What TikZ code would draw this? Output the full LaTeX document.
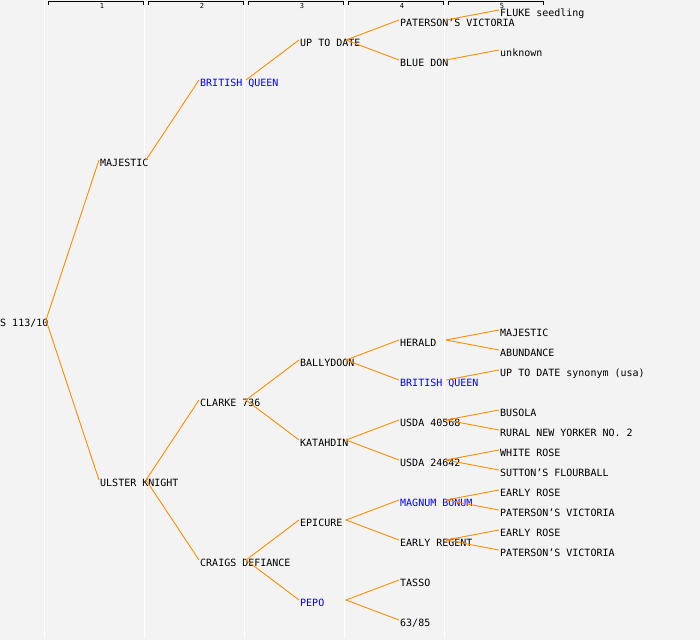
\documentclass[tikz,border=0pt]{standalone}
\usepackage{fontspec}
\setmonofont{DejaVu Sans Mono}
\definecolor{bg}{HTML}{F3F3F3}
\definecolor{edgeorange}{HTML}{FF8C00}
\definecolor{pblue}{HTML}{0000FF}
\tikzset{
  lbl/.style={font=\ttfamily\fontsize{10}{12}\selectfont, inner sep=0pt, text=black},
  bluelbl/.style={text=pblue},
  plain/.style={},
  edge/.style={draw=edgeorange, line width=0.9pt},
  colline/.style={draw=white, line width=1pt},
  bracket/.style={draw=black, line width=0.9pt},
  colnum/.style={font=\ttfamily\fontsize{7}{8}\selectfont, inner sep=0pt}
}
\newcommand\pnode[5]{%
  \node[lbl,#4,anchor=base west] (#1) at (#2,#3+6) {#5};
  \coordinate (#1-in) at (#2-1,#3);
  \coordinate (#1-out) at (#2+46,#3);
}
\begin{document}
\begin{tikzpicture}[x=1pt,y=-1pt]
\useasboundingbox (0,0) rectangle (700,640);
\fill[bg] (0,0) rectangle (700,640);
% column separators
\foreach \cx in {44.5,144.5,244.5,344.5,444.5}{
  \draw[colline] (\cx,0) -- (\cx,638);
}
% column headers
\foreach \bx/\lab in {45/1,145/2,245/3,345/4,445/5}{
  \draw[bracket] (\bx+3,4.5) -- (\bx+3,1.5) -- (\bx+98,1.5) -- (\bx+98,4.5);
  \node[colnum] (h\lab) at (\bx+57,6) {\lab};
}
% nodes
\pnode{root}{0}{320}{plain}{S 113/10}
\pnode{majestic}{100}{160}{plain}{MAJESTIC}
\pnode{ulster}{100}{480}{plain}{ULSTER KNIGHT}
\pnode{bqa}{200}{80}{bluelbl}{BRITISH QUEEN}
\pnode{clarke}{200}{400}{plain}{CLARKE 736}
\pnode{craigs}{200}{560}{plain}{CRAIGS DEFIANCE}
\pnode{uptodate}{300}{40}{plain}{UP TO DATE}
\pnode{ballydoon}{300}{360}{plain}{BALLYDOON}
\pnode{katahdin}{300}{440}{plain}{KATAHDIN}
\pnode{epicure}{300}{520}{plain}{EPICURE}
\pnode{pepo}{300}{600}{bluelbl}{PEPO}
\pnode{pva}{400}{20}{plain}{PATERSON’S VICTORIA}
\pnode{bluedon}{400}{60}{plain}{BLUE DON}
\pnode{herald}{400}{340}{plain}{HERALD}
\pnode{bqb}{400}{380}{bluelbl}{BRITISH QUEEN}
\pnode{usdaa}{400}{420}{plain}{USDA 40568}
\pnode{usdab}{400}{460}{plain}{USDA 24642}
\pnode{magnum}{400}{500}{bluelbl}{MAGNUM BONUM}
\pnode{eregent}{400}{540}{plain}{EARLY REGENT}
\pnode{tasso}{400}{580}{plain}{TASSO}
\pnode{sixtythree}{400}{620}{plain}{63/85}
\pnode{fluke}{500}{10}{plain}{FLUKE seedling}
\pnode{unknown}{500}{50}{plain}{unknown}
\pnode{majb}{500}{330}{plain}{MAJESTIC}
\pnode{abund}{500}{350}{plain}{ABUNDANCE}
\pnode{utdsyn}{500}{370}{plain}{UP TO DATE synonym (usa)}
\pnode{busola}{500}{410}{plain}{BUSOLA}
\pnode{rural}{500}{430}{plain}{RURAL NEW YORKER NO. 2}
\pnode{white}{500}{450}{plain}{WHITE ROSE}
\pnode{sutton}{500}{470}{plain}{SUTTON’S FLOURBALL}
\pnode{era}{500}{490}{plain}{EARLY ROSE}
\pnode{pvb}{500}{510}{plain}{PATERSON’S VICTORIA}
\pnode{erb}{500}{530}{plain}{EARLY ROSE}
\pnode{pvc}{500}{550}{plain}{PATERSON’S VICTORIA}
% edges
\foreach \p/\c in {root/majestic,root/ulster,majestic/bqa,ulster/clarke,ulster/craigs,
  bqa/uptodate,clarke/ballydoon,clarke/katahdin,craigs/epicure,craigs/pepo,
  uptodate/pva,uptodate/bluedon,ballydoon/herald,ballydoon/bqb,katahdin/usdaa,katahdin/usdab,
  epicure/magnum,epicure/eregent,pepo/tasso,pepo/sixtythree,
  pva/fluke,bluedon/unknown,herald/majb,herald/abund,bqb/utdsyn,usdaa/busola,usdaa/rural,
  usdab/white,usdab/sutton,magnum/era,magnum/pvb,eregent/erb,eregent/pvc}{
  \draw[edge] (\p-out) -- (\c-in);
}
\end{tikzpicture}
\end{document}
